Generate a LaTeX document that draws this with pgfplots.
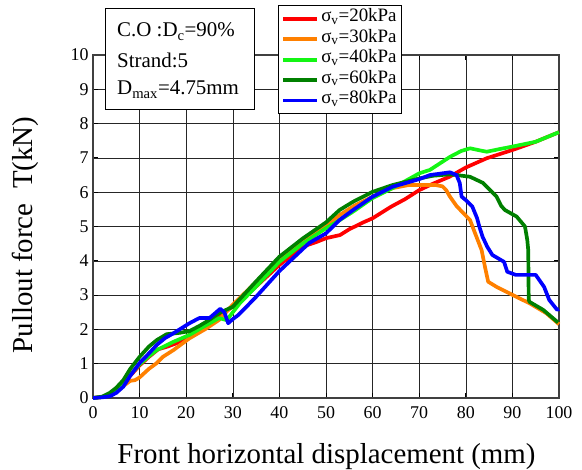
\documentclass[border=0pt]{standalone}
\usepackage{fontspec}
\setmainfont{Liberation Serif}
\usepackage{pgfplots}
\pgfplotsset{compat=1.18}
\definecolor{cRed}{RGB}{255,0,0}
\definecolor{cOrange}{RGB}{255,128,0}
\definecolor{cLGreen}{RGB}{20,245,20}
\definecolor{cDGreen}{RGB}{0,128,0}
\definecolor{cBlue}{RGB}{0,0,255}
\begin{document}
\begin{tikzpicture}
\begin{axis}[
  scale only axis, width=466bp, height=343bp,
  xmin=0, xmax=100, ymin=0, ymax=10,
  xtick={0,10,...,100}, ytick={0,1,...,10},
  xticklabels={0,10,20,30,40,50,60,70,80,90,100},
  yticklabels={0,1,2,3,4,5,6,7,8,9,10},
  grid=major,
  major grid style={line width=0.6pt, black!85},
  axis line style={line width=1.3pt, black!75},
  tick align=inside, major tick length=5bp,
  tick style={line width=1pt, black},
  clip=false,
  tick label style={font=\rmfamily\fontsize{18}{20}\selectfont},
  xticklabel style={yshift=-5bp},
  yticklabel style={xshift=-1bp},
  xlabel={Front horizontal displacement (mm)},
  ylabel={Pullout force\ \ T(kN)},
  label style={font=\fontsize{29}{32}\selectfont},
  xlabel style={at={(axis description cs:0.501,-0.1895)}, anchor=base},
  ylabel style={at={(axis description cs:-0.129,0.475)}, anchor=base},
  legend cell align=left,
  legend style={at={(axis description cs:0.397,1.1458)}, anchor=north west,
    draw=black, line width=1pt, fill=white,
    font=\fontsize{19}{21}\selectfont,
    inner xsep=3bp, inner ysep=7bp, row sep=7.4bp,
    nodes={inner sep=2bp, text depth=0.15em, text height=0.75em}},
  legend image code/.code={\draw[#1, line width=3.8pt] (0bp,0bp) -- (34bp,0bp);},
  every axis plot/.append style={line width=3.7pt, line join=round},
]
\addplot[cRed] coordinates {(0,0) (2,0.03) (4,0.12) (6,0.35) (8,0.65) (10,0.95) (12,1.2) (14,1.42) (16,1.5) (18,1.6) (20,1.78) (22,1.95) (24,2.1) (26,2.25) (28,2.45) (30,2.68) (35,3.25) (40,3.88) (44,4.3) (46,4.46) (48,4.55) (50,4.66) (52,4.72) (53,4.75) (55,4.92) (58,5.12) (60,5.24) (64,5.58) (67,5.8) (70,6.06) (73,6.25) (76.5,6.45) (80,6.72) (84.5,6.99) (90,7.23) (95,7.47) (100,7.75)};
\addlegendentry{σ\textsubscript{v}=20kPa}
\addplot[cOrange] coordinates {(0,0) (2,0.03) (4,0.1) (6,0.3) (8,0.5) (9,0.52) (10,0.6) (12,0.85) (13.7,1.02) (15,1.2) (17.3,1.4) (20.7,1.74) (24,2.0) (27,2.27) (30,2.72) (35,3.38) (40,4.05) (45,4.58) (50,5.02) (53,5.34) (56,5.6) (60,5.87) (64.3,6.12) (67.8,6.21) (70,6.21) (73.5,6.21) (75,6.17) (75.8,6.06) (76.6,5.87) (78,5.6) (79.4,5.4) (80.9,5.19) (82,4.8) (83.4,4.31) (84.1,3.83) (84.8,3.39) (86.6,3.24) (90.1,3.0) (93.7,2.76) (97.3,2.47) (100,2.15)};
\addlegendentry{σ\textsubscript{v}=30kPa}
\addplot[cLGreen] coordinates {(0,0) (2,0.03) (4,0.12) (6,0.36) (8,0.68) (10,0.98) (12,1.22) (13.7,1.4) (17.3,1.64) (20.7,1.84) (24,2.1) (27,2.33) (28.7,2.27) (30,2.5) (31.5,2.76) (35,3.25) (40,3.97) (45,4.5) (50,4.95) (53,5.19) (56,5.45) (60,5.83) (64.3,6.12) (70,6.55) (72.3,6.65) (76.6,7.03) (79,7.2) (80.9,7.28) (83,7.22) (84.5,7.18) (87,7.25) (90,7.33) (95,7.47) (100,7.75)};
\addlegendentry{σ\textsubscript{v}=40kPa}
\addplot[cDGreen] coordinates {(0,0) (2,0.04) (3.6,0.15) (5,0.3) (6.5,0.52) (8,0.85) (10,1.2) (12,1.5) (13.7,1.69) (15.8,1.86) (18.6,1.9) (20.7,1.95) (22.8,2.1) (25,2.28) (27,2.47) (30,2.66) (35,3.4) (40,4.12) (45,4.65) (50,5.12) (52.9,5.48) (55.8,5.72) (60,6.01) (64.3,6.21) (70,6.4) (73,6.48) (76.4,6.52) (78,6.5) (80.9,6.45) (83.7,6.27) (86.6,5.87) (87.6,5.6) (88.4,5.48) (90.9,5.29) (92.7,5.0) (93.2,4.6) (93.4,4.31) (93.5,2.86) (93.7,2.8) (96.6,2.57) (99.8,2.2)};
\addlegendentry{σ\textsubscript{v}=60kPa}
\addplot[cBlue] coordinates {(0,0) (2,0.02) (3.6,0.05) (5,0.15) (6.5,0.33) (8,0.65) (10,1.02) (12,1.3) (13.7,1.55) (15.5,1.75) (17.3,1.89) (20.7,2.18) (22.8,2.33) (25,2.33) (27.3,2.6) (28.2,2.5) (29,2.18) (30,2.3) (31,2.4) (32.5,2.6) (35,2.95) (40,3.7) (46.4,4.52) (50,4.8) (52.9,5.19) (55.8,5.48) (60,5.87) (64.3,6.16) (70,6.38) (72.3,6.5) (76.6,6.58) (78,6.5) (78.7,6.27) (79.1,5.87) (80,5.77) (81.4,5.58) (82.4,5.25) (82.9,5.0) (83.6,4.7) (84.6,4.41) (85.7,4.17) (88.2,3.97) (88.9,3.68) (90.7,3.59) (95,3.59) (96.8,3.24) (97.9,2.86) (99.6,2.57) (100,2.6)};
\addlegendentry{σ\textsubscript{v}=80kPa}
\draw[fill=white, line width=1pt] (axis description cs:0.0279,1.137) rectangle (axis description cs:0.3476,0.8397);
\node[anchor=base west, inner sep=0pt, font=\fontsize{21}{24}\selectfont] at (axis description cs:0.0515,1.0525) {C.O :D\textsubscript{c}=90\%};
\node[anchor=base west, inner sep=0pt, font=\fontsize{21}{24}\selectfont] at (axis description cs:0.0515,0.965) {Strand:5};
\node[anchor=base west, inner sep=0pt, font=\fontsize{21}{24}\selectfont] at (axis description cs:0.0515,0.8834) {D\textsubscript{max}=4.75mm};
\end{axis}
\pgfresetboundingbox
\path (-93bp,-72bp) rectangle (489bp,398bp);
\end{tikzpicture}
\end{document}
